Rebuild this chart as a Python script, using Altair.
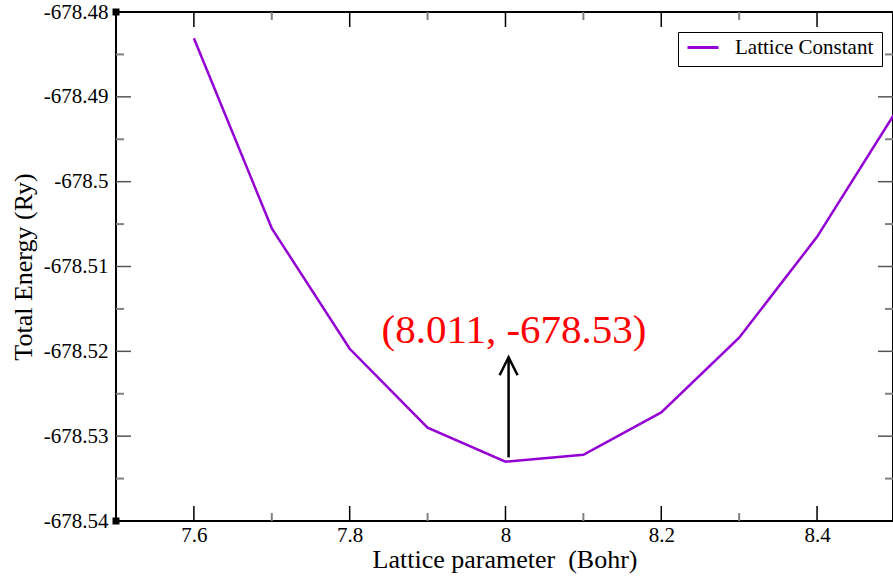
import altair as alt
import pandas as pd

# ---- data ----
lattice = [7.6, 7.7, 7.8, 7.9, 8.0, 8.1, 8.2, 8.3, 8.4, 8.5]
energy = [-678.4831, -678.5055, -678.5197, -678.5290, -678.5330,
          -678.5322, -678.5272, -678.5184, -678.5065, -678.4919]
series_name = "Lattice Constant"

x_major = [7.6, 7.8, 8.0, 8.2, 8.4]
x_minor = [7.7, 7.9, 8.1, 8.3]
y_major = [-678.48, -678.49, -678.50, -678.51, -678.52, -678.53, -678.54]
y_minor = [-678.485, -678.495, -678.505, -678.515, -678.525, -678.535]

annot_label = "(8.011, -678.53)"
annot_x = [8.011]
annot_y = [-678.519]
arrow_x = [8.004]
arrow_y_start = [-678.5325]
arrow_y_end = [-678.5207]

corner_x = [7.5, 7.5]
corner_y = [-678.48, -678.54]

# ---- layout ----
W, H = 777, 509
FONT = "Liberation Serif"
PURPLE = "#9400d3"
MINUS_FIX = "replace(datum.label, '\u2212', '-')"

df = pd.DataFrame({"a": lattice, "e": energy, "s": [series_name] * len(lattice)})

xscale = alt.Scale(domain=[7.5, 8.4975], nice=False, zero=False)
yscale = alt.Scale(domain=[-678.54, -678.48], nice=False, zero=False)

xaxis = alt.Axis(values=x_major, format="~g", labelExpr=MINUS_FIX,
                 labelFont=FONT, labelFontSize=21, labelColor="black",
                 title="Lattice parameter\u00a0 (Bohr)",
                 labelPadding=3, titleY=46, titleBaseline="alphabetic")
yaxis = alt.Axis(values=y_major, format=".2~f", labelExpr=MINUS_FIX,
                 labelFont=FONT, labelFontSize=21, labelColor="black",
                 title="Total Energy (Ry)",
                 labelPadding=8, titleX=-85, titleBaseline="alphabetic")


def X(field):
    return alt.X(field, type="quantitative", scale=xscale, axis=xaxis)


def Y(field):
    return alt.Y(field, type="quantitative", scale=yscale, axis=yaxis)


line = alt.Chart(df).mark_line(strokeWidth=2.5, clip=True).encode(
    x=X("a"),
    y=Y("e"),
    color=alt.Color("s:N", scale=alt.Scale(range=[PURPLE]),
                    legend=alt.Legend(orient="none", legendX=562, legendY=20,
                                      title=None, labelFont=FONT, labelFontSize=21,
                                      labelColor="black",
                                      symbolType="stroke", symbolSize=961,
                                      symbolStrokeWidth=3, strokeColor="black",
                                      fillColor="white", padding=8, labelOffset=15,
                                      clipHeight=15, cornerRadius=0)),
)


def xticks(vals, length, color, width):
    d = pd.DataFrame({"v": vals})
    bottom = alt.Chart(d).mark_rule(color=color, strokeWidth=width).encode(
        x=X("v"), y=alt.value(H), y2=alt.value(H - length))
    top = alt.Chart(d).mark_rule(color=color, strokeWidth=width).encode(
        x=X("v"), y=alt.value(0), y2=alt.value(length))
    return [bottom, top]


def yticks(vals, length, color, width):
    d = pd.DataFrame({"v": vals})
    left = alt.Chart(d).mark_rule(color=color, strokeWidth=width).encode(
        y=Y("v"), x=alt.value(0), x2=alt.value(length))
    right = alt.Chart(d).mark_rule(color=color, strokeWidth=width).encode(
        y=Y("v"), x=alt.value(W), x2=alt.value(W - length))
    return [left, right]


tick_layers = (xticks(x_major, 15, "black", 1.5) + xticks(x_minor, 8, "#808080", 2)
               + yticks(y_major[1:-1], 15, "#555555", 1.5) + yticks(y_minor, 8, "#808080", 2))

ann_df = pd.DataFrame({"x": annot_x, "y": annot_y, "t": [annot_label]})
text = alt.Chart(ann_df).mark_text(font=FONT, fontSize=41, color="red",
                                   baseline="alphabetic", align="center").encode(
    x=X("x"), y=Y("y"), text="t:N")

arr_df = pd.DataFrame({"x": arrow_x, "y0": arrow_y_start, "y1": arrow_y_end})
stem = alt.Chart(arr_df).mark_rule(color="black", strokeWidth=2.5).encode(
    x=X("x"), y=Y("y0"), y2="y1:Q")
head = alt.Chart(arr_df).mark_point(shape="M-1,2L0,0L1,2", filled=False, stroke="black",
                                    strokeWidth=2.5, size=324, opacity=1).encode(
    x=X("x"), y=Y("y1"))

corner_df = pd.DataFrame({"x": corner_x, "y": corner_y})
corners = alt.Chart(corner_df).mark_square(color="black", size=49, opacity=1).encode(
    x=X("x"), y=Y("y"))

chart = alt.layer(line, *tick_layers, stem, head, text, corners).properties(
    width=W, height=H,
    background="white",
    autosize=alt.AutoSizeParams(type="none"),
    padding={"left": 116, "top": 12, "right": 0, "bottom": 58},
).configure_view(stroke="black", strokeWidth=2).configure_axis(
    domain=False, ticks=False, tickSize=0, grid=False,
    labelFont=FONT, labelFontSize=21, labelColor="black",
    titleFont=FONT, titleFontSize=26, titleFontWeight="normal", titleColor="black",
)

chart.save("out.html", embed_options={"renderer": "svg", "actions": False})
